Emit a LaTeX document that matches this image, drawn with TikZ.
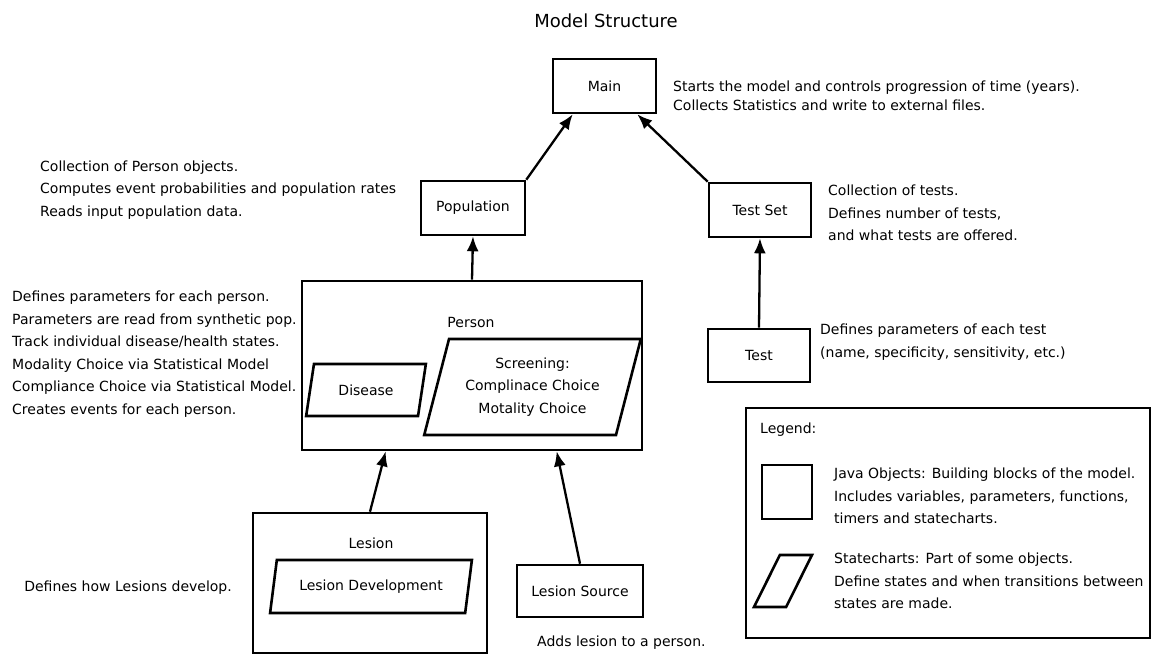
\documentclass[tikz,border=0pt]{standalone}
\usepackage{fontspec}
\setmainfont{DejaVu Sans}
\usetikzlibrary{arrows.meta,shapes.geometric}
\newcommand\txtfont{\fontsize{14}{22.5}\selectfont}
\begin{document}
\begin{tikzpicture}[x=1pt,y=-1pt,
  box/.style={draw, line width=2.6pt, inner sep=0pt, font=\txtfont, align=center},
  para/.style={trapezium, trapezium left angle=71.5, trapezium right angle=108.5,
    trapezium stretches=true, draw, line width=2.6pt, inner sep=1pt,
    font=\txtfont, align=center},
  desc/.style={anchor=west, align=left, inner sep=0pt, font=\txtfont},
  lbl/.style={inner sep=0pt, font=\txtfont},
  arr/.style={-{Latex[length=15pt,width=12pt]}, line width=2.3pt}]
\useasboundingbox (0,0) rectangle (1152,655);
\fill[white] (0,0) rectangle (1152,655);

\node[lbl, font=\fontsize{18}{22}\selectfont] (title) at (606,21) {Model Structure};

\node[box, minimum width=103pt, minimum height=54pt] (main) at (604.5,86) {Main};
\node[desc, font=\fontsize{14}{19.5}\selectfont] (maintext) at (673,96) {Starts the model and controls progression of time (years).\\Collects Statistics and write to external files.};

\node[box, minimum width=104pt, minimum height=54pt] (pop) at (473,208) {Population};
\node[desc] (poptext) at (40,190) {Collection of Person objects.\\Computes event probabilities and population rates\\Reads input population data.};

\node[box, minimum width=102pt, minimum height=54pt] (testset) at (760,210) {Test Set};
\node[desc] (testsettext) at (828,213) {Collection of tests.\\Defines number of tests,\\and what tests are offered.};

\node[box, minimum width=102pt, minimum height=53pt] (test) at (759,355.5) {Test};
\node[desc] (testtext) at (820,342) {Defines parameters of each test\\(name, specificity, sensitivity, etc.)};

\node[box, minimum width=340pt, minimum height=169pt] (person) at (472,365.5) {};
\node[lbl] (personlabel) at (471,322) {Person};
\node[para, minimum width=120pt, minimum height=52pt] (disease) at (366,390) {Disease};
\node[para, minimum width=217pt, minimum height=96pt] (screening) at (532.5,387) {Screening:\\Complinace Choice\\Motality Choice};
\node[desc] (persontext) at (12,354) {Defines parameters for each person.\\Parameters are read from synthetic pop.\\Track individual disease/health states.\\Modality Choice via Statistical Model\\Compliance Choice via Statistical Model.\\Creates events for each person.};

\node[box, minimum width=234pt, minimum height=140pt] (lesion) at (370,583) {};
\node[lbl] (lesionlabel) at (371,543) {Lesion};
\node[para, minimum width=202pt, minimum height=53pt] (lesiondev) at (371,586.5) {Lesion Development};
\node[lbl, anchor=east] (lesiontext) at (232,588) {Defines how Lesions develop.};

\node[box, minimum width=126pt, minimum height=52pt] (source) at (580,591) {Lesion Source};
\node[desc] (sourcetext) at (537,643) {Adds lesion to a person.};

\node[box, minimum width=404pt, minimum height=230pt] (legend) at (948,523) {};
\node[desc] (legendlabel) at (760,430) {Legend:};
\node[box, minimum width=50pt, minimum height=54pt] (legbox) at (787,492) {};
\node[desc] (legboxtext) at (834,496) {Java Objects: Building blocks of the model.\\Includes variables, parameters, functions,\\timers and statecharts.};
\node[para, minimum width=58pt, minimum height=52pt] (legpara) at (783,581) {\strut};
\node[desc] (legparatext) at (834,581) {Statecharts: Part of some objects.\\Define states and when transitions between\\states are made.};

\draw[arr] (pop.north east) -- ([xshift=21pt]main.south west);
\draw[arr] (testset.north west) -- ([xshift=-20pt]main.south east);
\draw[arr] (person.north) -- (pop.south);
\draw[arr] (test.north) -- (testset.south);
\draw[arr] (lesion.north) -- ([xshift=85pt]person.south west);
\draw[arr] (source.north) -- ([xshift=256pt]person.south west);
\end{tikzpicture}
\end{document}
